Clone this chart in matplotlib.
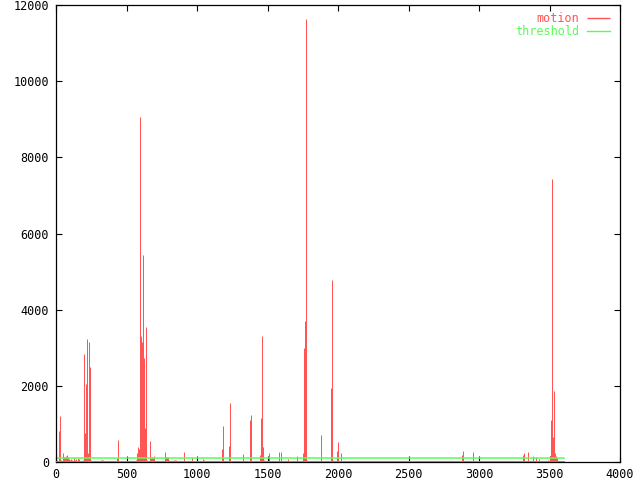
import matplotlib
matplotlib.use('Agg')
import matplotlib.pyplot as plt

# frame number and motion value (impulses)
frames = [0, 5, 20, 27, 35, 52, 60, 64, 70, 77, 84, 91, 99, 106, 113, 120, 127, 134, 141, 148,
          155, 162, 170, 190, 197, 204, 211, 218, 225, 231, 237, 244, 250, 300, 320, 327, 334, 341,
          400, 420, 434, 441, 500, 565, 572, 579, 586, 593, 600, 607, 614, 622, 629, 636, 643,
          664, 671, 678, 685, 692, 740, 774, 781, 788, 795, 802, 820, 840, 847, 854, 905, 961,
          1000, 1046, 1053, 1180, 1187, 1230, 1237, 1244, 1251, 1324, 1329, 1378, 1385, 1449,
          1456, 1463, 1470, 1477, 1506, 1513, 1520, 1527, 1584, 1598, 1647, 1711, 1753, 1760,
          1767, 1774, 1781, 1881, 1951, 1958, 1965, 1993, 2001, 2008, 2022, 2882, 2890, 2955,
          3309, 3316, 3351, 3380, 3401, 3429, 3450, 3489, 3500, 3507, 3514, 3521, 3528, 3535,
          3542, 3549, 3556, 3600]
motion = [690, 60, 815, 1210, 40, 245, 120, 130, 158, 184, 140, 80, 40, 90, 50, 30, 105, 40, 70, 30,
          100, 80, 30, 60, 2840, 770, 2050, 3235, 245, 180, 3140, 2500, 40, 30, 50, 55, 45, 30,
          20, 30, 100, 580, 20, 60, 245, 400, 340, 9050, 3300, 3140, 5430, 2720, 900, 3550, 60,
          550, 100, 125, 100, 150, 20, 270, 130, 120, 130, 60, 30, 50, 55, 40, 263, 130,
          20, 70, 40, 342, 947, 420, 1550, 35, 20, 35, 210, 1105, 1235, 185,
          1157, 3315, 395, 60, 35, 237, 30, 20, 263, 263, 90, 160, 235, 2990,
          3710, 11620, 60, 700, 1955, 4790, 50, 290, 530, 20, 237, 184, 290, 263,
          184, 237, 263, 158, 130, 80, 26, 50, 100, 158, 1105, 7420, 665, 1870,
          237, 150, 110, 0]

threshold_x = [0, 3600]
threshold_y = [100, 100]

xticks = [0, 500, 1000, 1500, 2000, 2500, 3000, 3500, 4000]
yticks = [0, 2000, 4000, 6000, 8000, 10000, 12000]

red = '#ff5555'
green = '#55ff55'

plt.rcParams['font.family'] = 'DejaVu Sans Mono'
plt.rcParams['font.size'] = 8.5

fig = plt.figure(figsize=(6.4, 4.8), dpi=100)
ax = fig.add_axes([56 / 640, 18 / 480, 564 / 640, 457 / 480])

ax.vlines(frames, 0, motion, color=red, linewidth=0.72, label='motion')
ax.hlines(0, frames[0], frames[-1], color=red, linewidth=1.0, antialiased=False, zorder=3)
ax.plot(threshold_x, threshold_y, color=green, linewidth=1.1, label='threshold')

ax.set_xlim(0, 4000)
ax.set_ylim(0, 12000)
ax.set_xticks(xticks)
ax.set_yticks(yticks)
ax.tick_params(direction='in', length=4.3, width=0.8, top=True, right=True, pad=4)
ax.tick_params(axis='y', pad=5)
for s in ax.spines.values():
    s.set_linewidth(0.9)

leg = ax.legend(loc='upper right', bbox_to_anchor=(0.982, 0.985), frameon=False,
                markerfirst=False, handlelength=1.9, handletextpad=0.7,
                labelspacing=0.05, borderaxespad=0, borderpad=0)
for txt, col in zip(leg.get_texts(), [red, green]):
    txt.set_color(col)
for h in leg.legend_handles:
    h.set_linewidth(1.0)

fig.savefig('out.png', dpi=100)
